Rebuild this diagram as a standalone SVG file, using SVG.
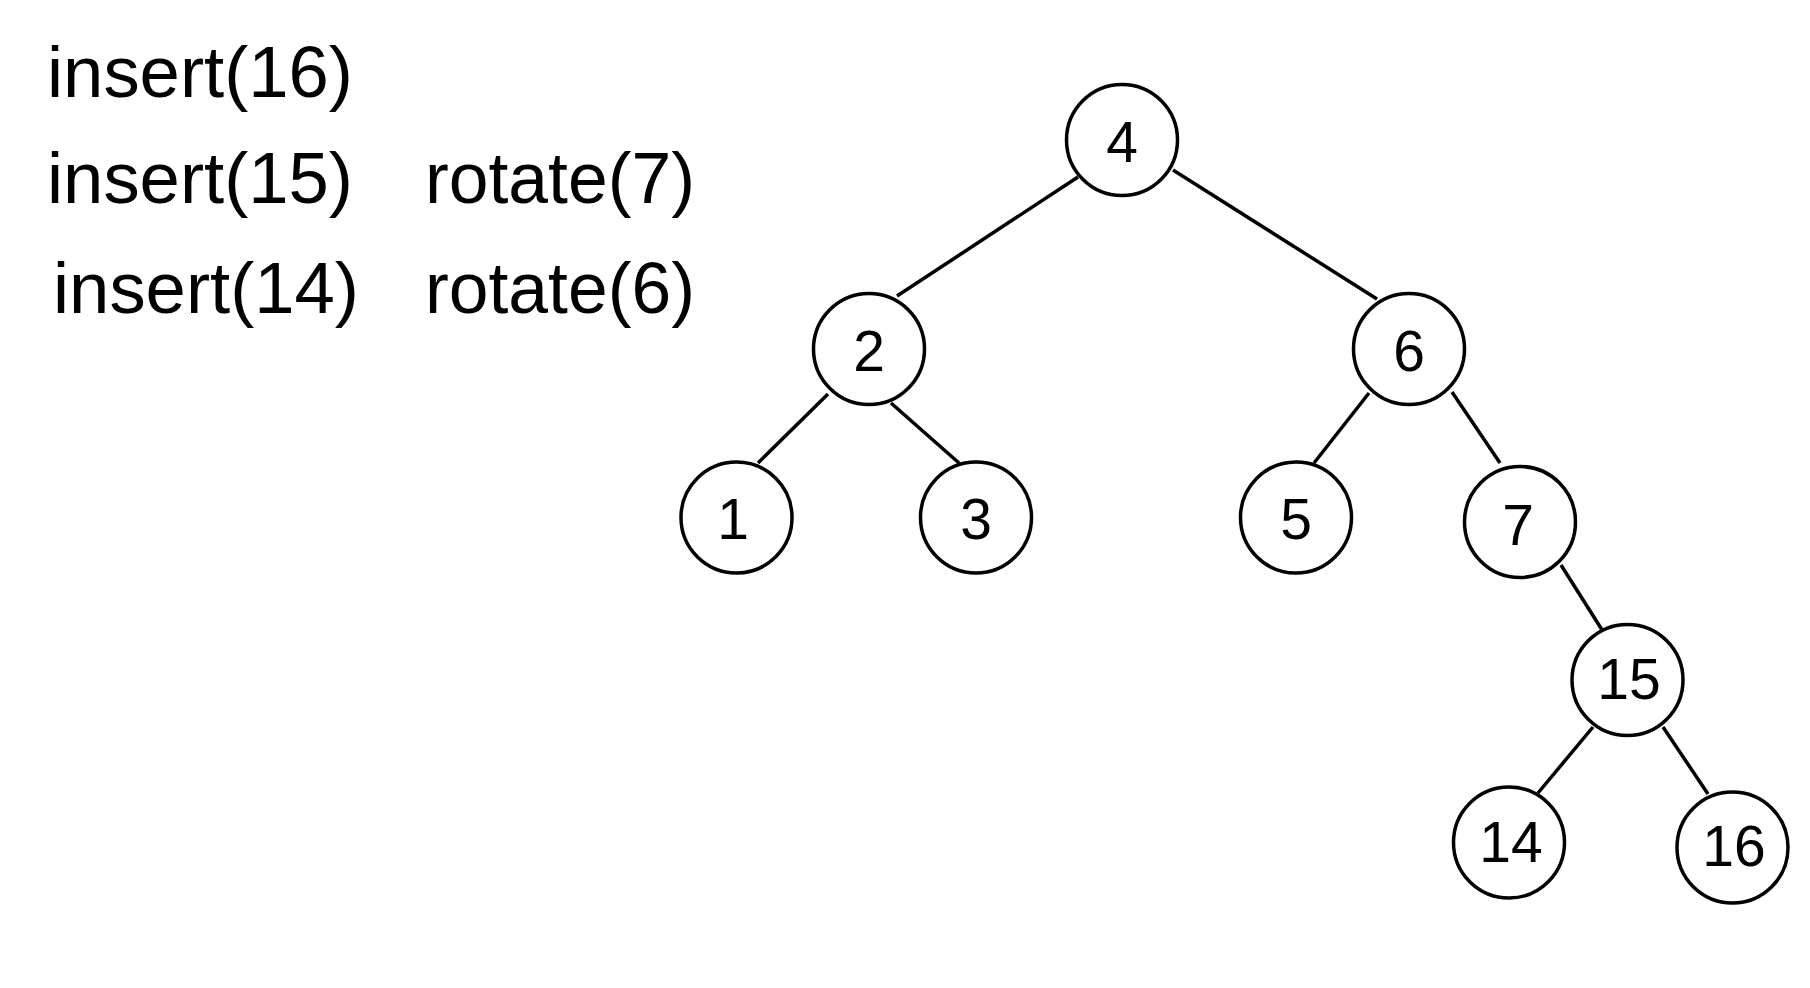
<svg xmlns="http://www.w3.org/2000/svg" width="1810" height="988" viewBox="0 0 1810 988">
<style>
.n circle{fill:#fff;stroke:#000;stroke-width:3.5}
.n text{font-family:"Liberation Sans",Arial,sans-serif;font-size:57px;fill:#000;text-anchor:middle}
.e line{stroke:#000;stroke-width:3.5}
.op{font-family:"Liberation Sans",Arial,sans-serif;font-size:72px;fill:#000}
</style>
<rect width="1810" height="988" fill="#fff"/>
<g id="ops">
<text class="op" x="47" y="97" textLength="306" lengthAdjust="spacingAndGlyphs">insert(16)</text>
<text class="op" x="47" y="203" textLength="306" lengthAdjust="spacingAndGlyphs">insert(15)</text>
<text class="op" x="425" y="203" textLength="270" lengthAdjust="spacingAndGlyphs">rotate(7)</text>
<text class="op" x="53" y="313" textLength="306" lengthAdjust="spacingAndGlyphs">insert(14)</text>
<text class="op" x="425" y="313" textLength="270" lengthAdjust="spacingAndGlyphs">rotate(6)</text>
</g>
<g id="edges" class="e">
<line x1="1078" y1="177" x2="897" y2="296"/>
<line x1="1173" y1="170" x2="1377" y2="299"/>
<line x1="828" y1="394" x2="758" y2="463"/>
<line x1="891" y1="403" x2="959" y2="463"/>
<line x1="1369" y1="393" x2="1314" y2="463"/>
<line x1="1452" y1="392" x2="1500" y2="463"/>
<line x1="1561" y1="565" x2="1604" y2="633"/>
<line x1="1593" y1="727" x2="1538" y2="793"/>
<line x1="1663" y1="727" x2="1708" y2="794"/>
</g>
<g id="n4" class="n"><circle cx="1122" cy="140" r="55.5"/><text x="1122" y="162">4</text></g>
<g id="n2" class="n"><circle cx="869" cy="349" r="55.5"/><text x="869" y="371">2</text></g>
<g id="n6" class="n"><circle cx="1409" cy="349" r="55.5"/><text x="1409" y="371">6</text></g>
<g id="n1" class="n"><circle cx="736.5" cy="517.5" r="55.5"/><text x="733" y="539">1</text></g>
<g id="n3" class="n"><circle cx="976" cy="517.5" r="55.5"/><text x="976" y="539">3</text></g>
<g id="n5" class="n"><circle cx="1296" cy="517.5" r="55.5"/><text x="1296" y="539">5</text></g>
<g id="n7" class="n"><circle cx="1520" cy="522" r="55.5"/><text x="1518" y="545">7</text></g>
<g id="n15" class="n"><circle cx="1627.5" cy="680" r="55.5"/><text x="1629" y="699">15</text></g>
<g id="n14" class="n"><circle cx="1509" cy="842.5" r="55.5"/><text x="1511" y="862">14</text></g>
<g id="n16" class="n"><circle cx="1732.5" cy="847.5" r="55.5"/><text x="1734" y="866">16</text></g>
</svg>
